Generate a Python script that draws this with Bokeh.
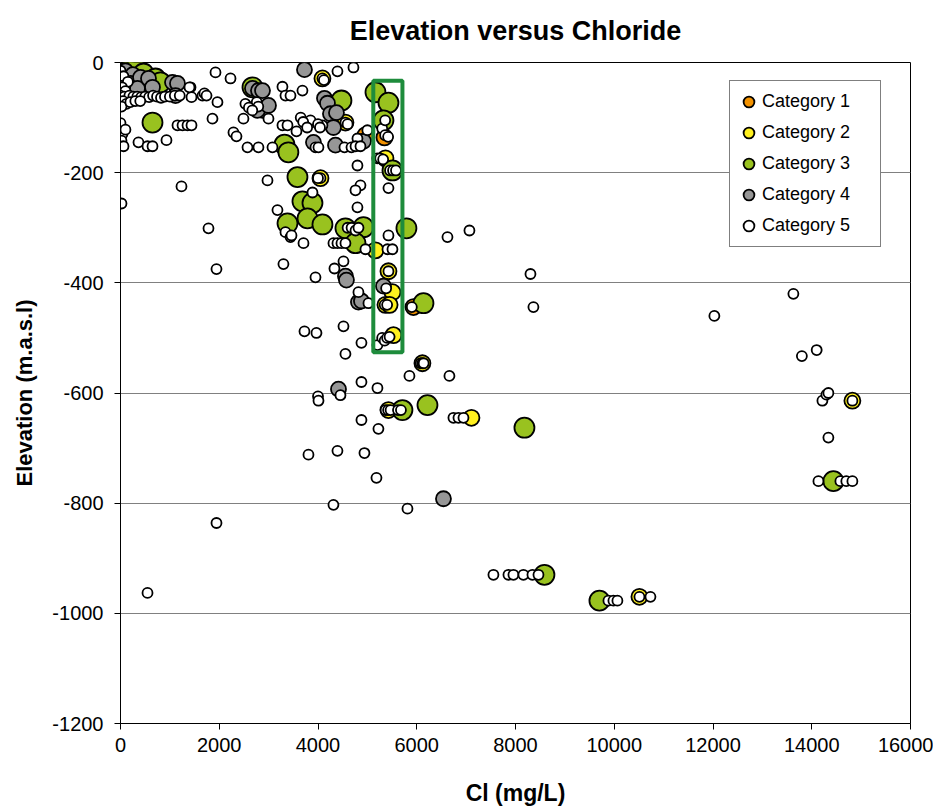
from bokeh.plotting import figure
from bokeh.models import Range1d, FixedTicker, Legend, LegendItem, BoxAnnotation
from bokeh.embed import file_html
from bokeh.resources import INLINE

FONT = "Liberation Sans"

# ---- data: chloride (mg/L) and elevation (m.a.s.l) per category ----
cat1_cl = [20, 4960, 5346, 5933]
cat1_elev = [-58, -132, -136, -444]

cat2_cl = [4090, 4050, 4556, 5366, 5164, 5427, 5508, 5366, 5450, 5528, 6115, 5427, 7108, 10510, 14823]
cat2_elev = [-29, -210, -109, -174, -341, -379, -417, -440, -440, -495, -546, -631, -645, -970, -614]

cat3_cl = [162, 304, 466, 709, 810, 648, 2673, 4475, 5164, 5427, 5326, 3321, 3400, 5508,
           3584, 3685, 3888, 3787, 4090, 3382, 4556, 4920, 4759, 5791, 6136, 5710, 6217,
           8181, 8586, 9700, 14438]
cat3_elev = [-15, -11, -20, -29, -36, -109, -45, -69, -54, -73, -105, -149, -163, -196,
             -208, -252, -255, -283, -294, -292, -301, -299, -328, -301, -437, -631, -622,
             -663, -930, -977, -760]

cat4_cl = [0, 100, 250, 203, 405, 344, 567, 648, 1053, 1154, 1114, 2673, 2794, 2876, 2774,
           3726, 4131, 4192, 4252, 4374, 4313, 3908, 4354, 4920, 2876, 2997, 4556, 4576,
           4819, 5326, 4880, 4415, 6541]
cat4_elev = [-27, -15, -22, -38, -27, -47, -29, -45, -36, -38, -60, -47, -51, -87, -87,
             -13, -65, -74, -93, -91, -118, -145, -150, -143, -51, -78, -388, -395,
             -435, -406, -433, -593, -792]

cat5_cl = [0, 60, 150, 30, 100, 0, 80, 180, 260, 340, 420, 500, 580, 660, 740, 820, 900,
           1000, 1100, 1200, 50, 120, 20, 200, 300, 400, 1418, 1438, 1660, 1700, 1742,
           1964, 1397, 0, 40, 100, 20, 61, 364, 547, 648, 931, 1154, 1256, 1357, 1438,
           1863, 2288, 2349, 2572, 2794, 3078, 1924, 2228, 3280, 3685, 4394, 4718, 2490,
           2997, 3341, 3443, 3280, 3382, 3564, 3848, 4090, 3949, 4009, 4536, 4678, 4799,
           4799, 4860, 4759, 4799, 5427, 1235, 20, 1782, 2977, 3179, 3341, 3443, 3706,
           3888, 3949, 3300, 1944, 3463, 4313, 4394, 4475, 4556, 4516, 4333, 4961, 5407,
           5508, 5427, 4819, 5022, 4516, 3726, 3969, 4880, 5204, 6622, 7067, 8303, 8363,
           4556, 5852, 6662, 4880, 5204, 4455, 4000, 4010, 4880, 5224, 4394, 4941, 3807,
           5184, 4313, 5812, 1944, 547,
           6743, 6845, 6946, 5370, 5420, 5470, 5620, 5680,
           7553, 7857, 7958, 8160, 8343, 8465, 9882, 9983, 10064, 10733, 10510,
           12028, 13628, 13800, 14100, 14216, 14297, 14337, 14337, 14823, 14135, 14580,
           14700, 14823,
           5200, 5260, 5320, 5300, 5360, 5420, 5360, 5460, 5520, 5580, 5300, 5350, 5400,
           5450, 5350, 5400, 5427, 5380, 6080, 6115, 6140, 5900,
           4090, 4120, 4050, 4000, 4556, 4600,
           4600, 4680, 4760, 4820, 3650, 3700, 3780, 4000, 4040, 2720, 2760, 2790, 2530,
           2600, 2670, 4760, 4860, 5000]
cat5_elev = [-15, -25, -35, -45, -52, -60, -62, -60, -62, -62, -63, -62, -63, -60, -62, -64, -62,
             -62, -60, -60, -70, -75, -80, -72, -70, -70, -45, -63, -60, -56, -60,
             -72, -45, -110, -130, -122, -142, -152, -145, -152, -152, -141, -114, -114, -114, -114,
             -102, -127, -134, -154, -154, -154, -18, -29, -44, -51, -16, -9, -102,
             -102, -60, -60, -114, -114, -125, -105, -114, -154, -154, -154, -154, -138,
             -187, -223, -232, -263, -228, -225, -256, -301, -214, -268, -308, -317, -328,
             -236, -390, -366, -375, -314, -328, -328, -328, -328, -361, -374, -339, -339,
             -339, -314, -417, -437, -479, -488, -491, -509, -513, -317, -305, -384, -444,
             -529, -569, -569, -580, -591, -604, -606, -614, -649, -665, -705, -709, -712,
             -754, -803, -810, -836, -963,
             -645, -645, -645, -631, -631, -631, -631, -631,
             -930, -930, -930, -930, -930, -930, -977, -977, -977, -970, -970,
             -460, -420, -533, -522, -614, -603, -600, -681, -614, -760, -760,
             -760, -760,
             -174, -174, -176, -120, -132, -135, -105, -196, -196, -196, -500, -505, -500,
             -498, -440, -440, -379, -410, -546, -546, -546, -444,
             -29, -32, -210, -210, -109, -112,
             -300, -300, -305, -300, -100, -108, -118, -112, -118, -78, -72, -80, -75,
             -82, -87, -152, -152, -123]

# highlighted interval (chloride span and elevation span)
box_cl = [5120, 5710]
box_elev = [-526, -33]

categories = ["Category 1", "Category 2", "Category 3", "Category 4", "Category 5"]
y_ticks = [0, -200, -400, -600, -800, -1000, -1200]
x_ticks = [0, 2000, 4000, 6000, 8000, 10000, 12000, 14000, 16000]

p = figure(width=933, height=808, output_backend="svg", toolbar_location=None,
           x_range=Range1d(0, 16000), y_range=Range1d(-1200, 0),
           min_border_left=120, min_border_right=23, min_border_top=62, min_border_bottom=84,
           title="Elevation versus Chloride")

p.title.align = "center"
p.title.vertical_align = "top"
p.title.text_font = FONT
p.title.text_font_size = "27px"
p.title.text_font_style = "bold"
p.title.text_color = "black"
p.title.text_line_height = 1.0
p.title.standoff = 29

p.outline_line_color = "black"
p.outline_line_width = 1
p.background_fill_color = "white"
p.border_fill_color = "white"

p.xgrid.grid_line_color = None
p.ygrid.grid_line_color = "#808080"
p.ygrid.grid_line_width = 1
p.ygrid.ticker = FixedTicker(ticks=y_ticks)

p.xaxis.ticker = FixedTicker(ticks=x_ticks)
p.yaxis.ticker = FixedTicker(ticks=y_ticks)
p.yaxis.major_label_overrides = {t: str(t) for t in y_ticks}
p.xaxis.major_label_overrides = {t: str(t) for t in x_ticks}

for ax in (p.xaxis[0], p.yaxis[0]):
    ax.axis_line_color = "black"
    ax.axis_line_width = 1
    ax.major_tick_line_color = "black"
    ax.major_tick_in = 0
    ax.major_tick_out = 6
    ax.minor_tick_line_color = None
    ax.major_label_text_font = FONT
    ax.major_label_text_font_size = "20px"
    ax.major_label_text_color = "black"
    ax.axis_label_text_font = FONT
    ax.axis_label_text_font_style = "bold"
    ax.axis_label_text_color = "black"

p.xaxis.axis_label = "Cl (mg/L)"
p.xaxis.axis_label_text_font_size = "23px"
p.xaxis.major_label_standoff = 8
p.xaxis.axis_label_standoff = 25
p.yaxis.axis_label = "Elevation (m.a.s.l)"
p.yaxis.axis_label_text_font_size = "22px"
p.yaxis.major_label_standoff = 11
p.yaxis.axis_label_standoff = 12

styles = [
    (cat1_cl, cat1_elev, "#F39200", 16),
    (cat2_cl, cat2_elev, "#FFF01F", 16),
    (cat3_cl, cat3_elev, "#99C21F", 20),
    (cat4_cl, cat4_elev, "#969696", 15),
    (cat5_cl, cat5_elev, "white", 10),
]

renderers = []
for cl, el, color, size in styles:
    r = p.scatter(cl, el, size=size, fill_color=color, line_color="black", line_width=1.8)
    renderers.append(r)

box = BoxAnnotation(left=box_cl[0], right=box_cl[1], bottom=box_elev[0], top=box_elev[1],
                    fill_alpha=0, fill_color=None, line_color="#1E8C3C", line_alpha=1.0,
                    line_width=4)
p.add_layout(box)

legend = Legend(items=[LegendItem(label=c, renderers=[r]) for c, r in zip(categories, renderers)],
                location=(609, 476))
legend.label_text_font = FONT
legend.label_text_font_size = "18px"
legend.label_text_color = "black"
legend.glyph_height = 31
legend.glyph_width = 27
legend.label_width = 113
legend.spacing = 0
legend.padding = 5
legend.margin = 0
legend.label_standoff = 0
legend.border_line_color = "black"
legend.border_line_width = 1
legend.background_fill_color = "white"
legend.background_fill_alpha = 1
p.add_layout(legend, "center")

open("out.html", "w").write(file_html(p, INLINE))
